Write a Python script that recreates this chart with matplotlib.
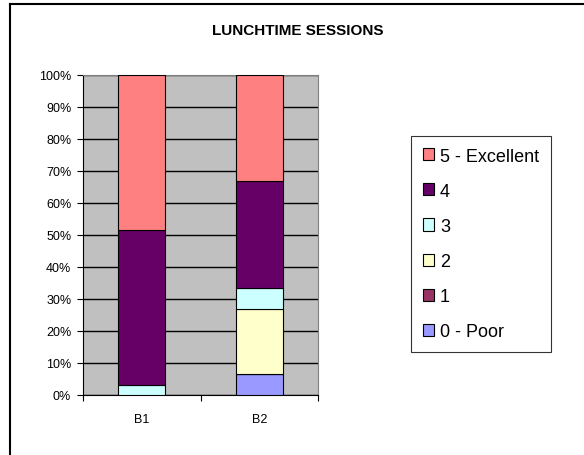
import numpy as np
import matplotlib
matplotlib.use('Agg')
import matplotlib.pyplot as plt
from matplotlib.patches import Patch

plt.rcParams['font.family'] = ['Liberation Sans', 'DejaVu Sans']

# data (percent of responses per rating)
groups = ['B1', 'B2']
ratings = ['0 - Poor', '1', '2', '3', '4', '5 - Excellent']
colors = ['#9999FF', '#993366', '#FFFFCC', '#CCFFFF', '#660066', '#FF8080']
poor0 = [0.0, 6.7]
r1 = [0.0, 0.0]
r2 = [0.0, 20.0]
r3 = [3.2, 6.7]
r4 = [48.4, 33.3]
excellent5 = [48.4, 33.3]
series = [poor0, r1, r2, r3, r4, excellent5]

W, H = 584, 456
fig = plt.figure(figsize=(W / 100, H / 100), dpi=100)

# chart area border (left and top visible)
fig.add_artist(plt.Line2D([10 / W, 10 / W], [0, 1 - 5 / H], color='black', lw=1.5))
fig.add_artist(plt.Line2D([10 / W, 1], [1 - 5 / H, 1 - 5 / H], color='black', lw=1.5))

ax = fig.add_axes([83 / W, (H - 396) / H, 235 / W, (396 - 75.5) / H])
ax.set_facecolor('#C0C0C0')

x = np.arange(len(groups))
bottom = np.zeros(len(groups))
for vals, col in zip(series, colors):
    vals = np.array(vals)
    ax.bar(x, vals, width=0.4, bottom=bottom, color=col, edgecolor='black',
           linewidth=0.8, zorder=3)
    bottom += vals

ax.set_xlim(-0.5, len(groups) - 0.5)
ax.set_ylim(0, 100)
ax.set_yticks(np.arange(0, 101, 10))
ax.set_yticklabels(['%d%%' % v for v in range(0, 101, 10)], fontsize=9)
ax.yaxis.grid(True, color='black', linewidth=1)
ax.set_axisbelow(True)

ax.set_xticks([-0.5, 0.5, 1.5])
ax.set_xticklabels([])
ax.set_xticks(x, minor=True)
ax.set_xticklabels(groups, minor=True, fontsize=9)
ax.tick_params(axis='x', which='minor', length=0, pad=13)
ax.tick_params(axis='x', which='major', length=4, direction='out')
ax.tick_params(axis='y', length=4, direction='out', pad=4.5)

for s in ['top', 'right']:
    ax.spines[s].set_color('#808080')
for s in ['left', 'bottom']:
    ax.spines[s].set_color('black')

fig.text(298 / W, 1 - 31 / H, 'LUNCHTIME SESSIONS', ha='center', va='center',
         fontsize=11, fontweight='bold')

handles = [Patch(facecolor=c, edgecolor='black', linewidth=0.8) for c in colors]
leg = fig.legend(handles[::-1], ratings[::-1], loc='upper left',
                 bbox_to_anchor=(411 / W, 1 - 137 / H), borderaxespad=0,
                 fontsize=13, frameon=True, fancybox=False, edgecolor='black',
                 handlelength=0.65, handleheight=0.65, handletextpad=0.3,
                 labelspacing=1.0, borderpad=0.65)
leg.get_frame().set_linewidth(0.8)

fig.savefig('out.png', dpi=100, facecolor='white')
